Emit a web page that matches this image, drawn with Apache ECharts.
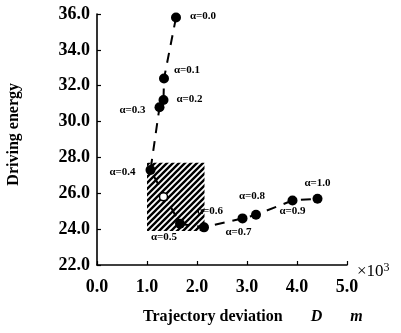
<!DOCTYPE html>
<html>
<head>
<meta charset="utf-8">
<script src="https://cdn.jsdelivr.net/npm/echarts@6/dist/echarts.min.js"></script>
<style>
  html, body { margin: 0; padding: 0; background: #fff; }
  #chart { width: 401px; height: 333px; }
</style>
</head>
<body>
<div id="chart"></div>
<script>
// values (deviation in x10^3 m)
const alphas = ["0.0", "0.1", "0.2", "0.3", "0.4", "0.5", "0.6", "0.7", "0.8", "0.9", "1.0"];
const deviation = [1.58, 1.34, 1.33, 1.25, 1.07, 1.66, 2.14, 2.91, 3.18, 3.91, 4.41];
const energy = [35.8, 32.4, 31.2, 30.8, 27.3, 24.3, 24.1, 24.6, 24.8, 25.6, 25.7];
const openPoint = [1.33, 25.8];
const regionX = [1.0, 2.15];
const regionY = [23.9, 27.7];

// label offsets from each point (px)
const labelOffsets = [
    [27, -1], [23, -8], [26, -1], [-27, 3], [-28, 2], [-16, 13],
    [6, -16], [-4, 14], [-4, -19], [0, 11], [0, -16],
];

const serif = "Liberation Serif, Times New Roman, serif";

function hatchPattern() {
    const s = 6;
    const c = document.createElement("canvas");
    c.width = s;
    c.height = s;
    const ctx = c.getContext("2d");
    ctx.strokeStyle = "#000";
    ctx.lineWidth = 2.4;
    ctx.beginPath();
    ctx.moveTo(0, s); ctx.lineTo(s, 0);
    ctx.moveTo(-s / 2, s / 2); ctx.lineTo(s / 2, -s / 2);
    ctx.moveTo(s / 2, s * 1.5); ctx.lineTo(s * 1.5, s / 2);
    ctx.stroke();
    return c;
}

const points = deviation.map((x, i) => ({
    value: [x, energy[i]],
    label: { offset: labelOffsets[i] },
}));

const chart = echarts.init(document.getElementById("chart"));

chart.setOption({
    animation: false,
    backgroundColor: "#fff",
    grid: { left: 97, right: 54, top: 14, bottom: 68 },
    xAxis: {
        type: "value",
        min: 0,
        max: 5,
        interval: 1,
        axisLine: { show: true, lineStyle: { color: "#000", width: 1.6 } },
        axisTick: { show: true, inside: true, length: 4, lineStyle: { color: "#000", width: 1.2 } },
        splitLine: { show: false },
        axisLabel: {
            margin: 13,
            color: "#000",
            fontFamily: serif,
            fontWeight: "bold",
            fontSize: 18,
            formatter: (v) => v.toFixed(1),
        },
    },
    yAxis: {
        type: "value",
        min: 22,
        max: 36,
        interval: 2,
        axisLine: { show: true, lineStyle: { color: "#000", width: 1.6 } },
        axisTick: { show: true, inside: true, length: 4, lineStyle: { color: "#000", width: 1.2 } },
        splitLine: { show: false },
        axisLabel: {
            margin: 7,
            color: "#000",
            fontFamily: serif,
            fontWeight: "bold",
            fontSize: 18,
            formatter: (v) => v.toFixed(1),
        },
    },
    graphic: [
        {
            type: "text",
            left: 6,
            top: 83,
            rotation: Math.PI / 2,
            originX: 0,
            style: {
                text: "Driving energy",
                x: -143,
                y: 14,
                fill: "#000",
                font: "bold 16px " + serif,
            },
        },
        {
            type: "text",
            x: 143,
            y: 309,
            style: {
                text: "{n|Trajectory deviation}{i|       D       m}",
                fill: "#000",
                rich: {
                    n: { font: "bold 16px " + serif, fill: "#000" },
                    i: { font: "italic bold 16px " + serif, fill: "#000" },
                },
            },
        },
        {
            type: "text",
            x: 357,
            y: 262,
            style: {
                text: "{a|×10}{s|3}",
                rich: {
                    a: { font: "17px " + serif, fill: "#000" },
                    s: { font: "12px " + serif, fill: "#000", verticalAlign: "top", padding: [0, 0, 8, 0] },
                },
            },
        },
    ],
    series: [
        {
            name: "path",
            type: "line",
            data: deviation.map((x, i) => [x, energy[i]]),
            showSymbol: false,
            silent: true,
            z: 2,
            lineStyle: { color: "#000", width: 2, type: [10, 8] },
            markArea: {
                silent: true,
                itemStyle: {
                    color: { image: hatchPattern(), repeat: "repeat" },
                    borderWidth: 0,
                },
                data: [[
                    { coord: [regionX[0], regionY[1]] },
                    { coord: [regionX[1], regionY[0]] },
                ]],
            },
        },
        {
            name: "points",
            type: "scatter",
            data: points,
            symbolSize: 10,
            z: 3,
            itemStyle: { color: "#000", opacity: 1 },
            label: {
                show: true,
                position: "inside",
                align: "center",
                verticalAlign: "middle",
                color: "#000",
                fontFamily: serif,
                fontWeight: "bold",
                fontSize: 11,
                formatter: (p) => "α=" + alphas[p.dataIndex],
            },
        },
        {
            name: "open",
            type: "scatter",
            data: [openPoint],
            symbolSize: 8,
            z: 4,
            itemStyle: { color: "#fff", borderColor: "#000", borderWidth: 1.5, opacity: 1 },
        },
    ],
});
</script>
</body>
</html>
